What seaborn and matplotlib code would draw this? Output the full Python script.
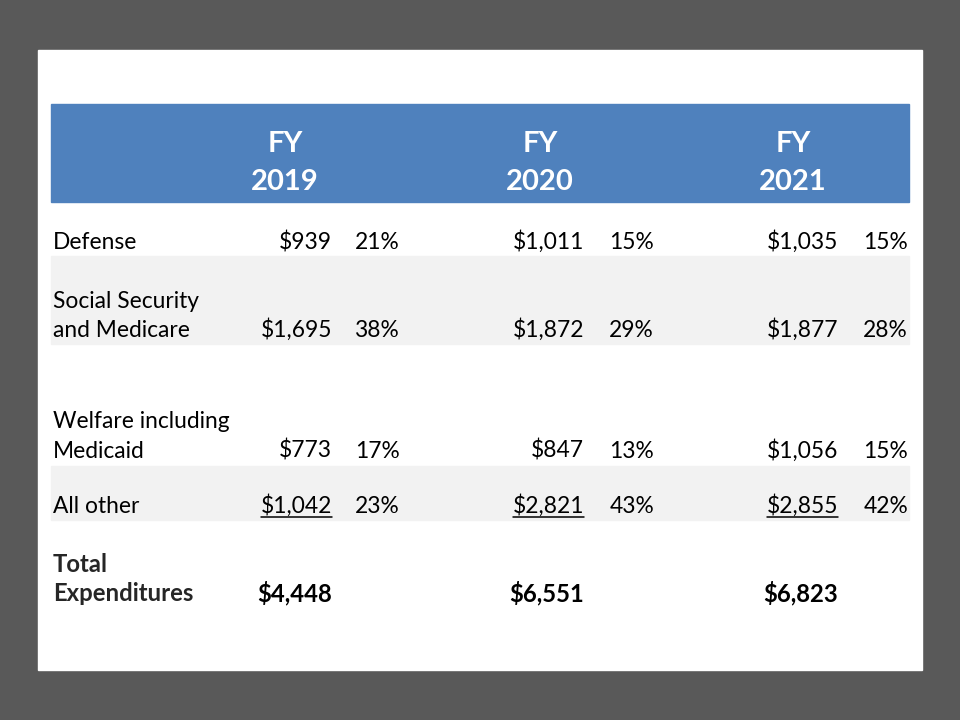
import matplotlib.pyplot as plt
import seaborn as sns
from matplotlib.patches import Rectangle

# dados da tabela
anos = ['2019', '2020', '2021']
categorias = [['Defense'],
              ['Social Security', 'and Medicare'],
              ['Welfare including', 'Medicaid'],
              ['All other']]
gastos_2019 = [939, 1695, 773, 1042]
gastos_2020 = [1011, 1872, 847, 2821]
gastos_2021 = [1035, 1877, 1056, 2855]
perc_2019 = [21, 38, 17, 23]
perc_2020 = [15, 29, 13, 43]
perc_2021 = [15, 28, 15, 42]
totais = [4448, 6551, 6823]
rotulo_total = ['Total', 'Expenditures']

gastos = [gastos_2019, gastos_2020, gastos_2021]
percentuais = [perc_2019, perc_2020, perc_2021]

azul = '#4F81BD'
cinza_fundo = '#595959'
cinza_faixa = '#F2F2F2'
fonte = ['Lato', 'DejaVu Sans']

sns.set_style('white')
plt.rcParams['font.family'] = fonte

fig = plt.figure(figsize=(9.6, 7.2), dpi=100)
fig.patch.set_facecolor(cinza_fundo)
ax = fig.add_axes([0, 0, 1, 1])
ax.set_xlim(0, 960)
ax.set_ylim(720, 0)
ax.axis('off')

# painel branco e cabeçalho
ax.add_patch(Rectangle((38, 50), 884, 620, color='white', zorder=0))
ax.add_patch(Rectangle((51, 104), 858, 98, color=azul, zorder=1))
ax.add_patch(Rectangle((51, 256), 858, 88, color=cinza_faixa, zorder=1))
ax.add_patch(Rectangle((51, 466), 858, 54, color=cinza_faixa, zorder=1))

centros_ano = [285, 540, 793]
x_valor = [332, 584, 838]
x_perc = [400, 654, 908]
base_linhas = [249, 337, 458, 513]
entrelinha = 29.5
tam = 16.4

for cx, ano in zip(centros_ano, anos):
    ax.text(cx, 152, 'FY', color='white', fontsize=21, fontweight='bold', ha='center', va='baseline', zorder=2)
    ax.text(cx, 190, ano, color='white', fontsize=21, fontweight='bold', ha='center', va='baseline', zorder=2)

for i, linhas in enumerate(categorias):
    for j, linha in enumerate(linhas):
        y = base_linhas[i] - (len(linhas) - 1 - j) * entrelinha
        ax.text(53, y, linha, fontsize=tam, ha='left', va='baseline', color='black', zorder=2)

sublinhados = []
for k in range(3):
    for i in range(len(categorias)):
        t = ax.text(x_valor[k], base_linhas[i], f'${gastos[k][i]:,}', fontsize=tam, ha='right',
                    va='baseline', color='black', zorder=2)
        if i == len(categorias) - 1:
            sublinhados.append(t)
        ax.text(x_perc[k], base_linhas[i], f'{percentuais[k][i]}%', fontsize=tam, ha='right',
                va='baseline', color='black', zorder=2)
    ax.text(x_valor[k], 601, f'${totais[k]:,}', fontsize=tam + 0.8, fontweight='bold', ha='right',
            va='baseline', color='black', zorder=2)

ax.text(53, 601 - entrelinha, rotulo_total[0], fontsize=tam + 0.8, fontweight='bold', ha='left', va='baseline', zorder=2)
ax.text(53, 601, rotulo_total[1], fontsize=tam + 0.8, fontweight='bold', ha='left', va='baseline', zorder=2)

# sublinhado dos valores de "All other"
fig.canvas.draw()
renderer = fig.canvas.get_renderer()
inv = ax.transData.inverted()
for t in sublinhados:
    bb = t.get_window_extent(renderer)
    x0, _ = inv.transform((bb.x0, bb.y0))
    x1, _ = inv.transform((bb.x1, bb.y0))
    ax.plot([x0, x1], [517, 517], color='black', lw=1.1, zorder=2)

plt.savefig('out.png', dpi=100, facecolor=cinza_fundo)
